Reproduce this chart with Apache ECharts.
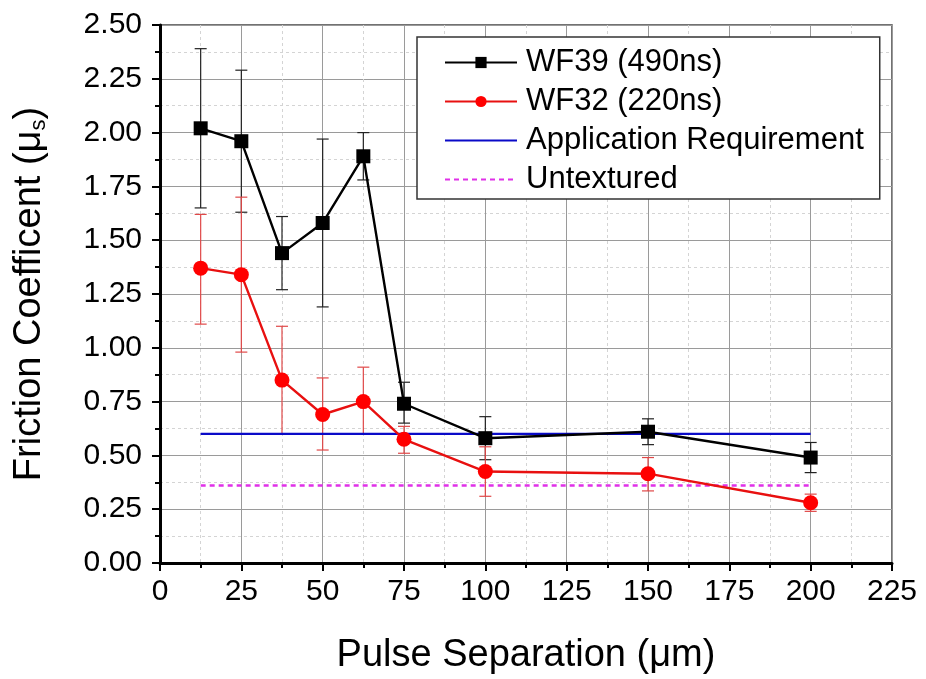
<!DOCTYPE html>
<html>
<head>
<meta charset="utf-8">
<script src="https://cdn.jsdelivr.net/npm/echarts@6/dist/echarts.min.js"></script>
<style>
  html, body { margin: 0; padding: 0; background: #fff; }
  #chart { width: 926px; height: 679px; }
</style>
</head>
<body>
<div id="chart"></div>
<script>
// Pulse separation (µm) for each textured sample
const pulseSeparation = [12.5, 25, 37.5, 50, 62.5, 75, 100, 150, 200];

// WF39 (490 ns) mean friction coefficient and error range
const wf39Mean = [2.02, 1.96, 1.44, 1.58, 1.89, 0.74, 0.58, 0.61, 0.49];
const wf39High = [2.39, 2.29, 1.61, 1.97, 2.00, 0.84, 0.68, 0.67, 0.56];
const wf39Low  = [1.65, 1.63, 1.27, 1.19, 1.78, 0.65, 0.48, 0.55, 0.42];

// WF32 (220 ns) mean friction coefficient and error range
const wf32Mean = [1.37, 1.34, 0.85, 0.69, 0.75, 0.575, 0.425, 0.415, 0.28];
const wf32High = [1.62, 1.70, 1.10, 0.86, 0.91, 0.635, 0.54, 0.49, 0.32];
const wf32Low  = [1.11, 0.98, 0.60, 0.525, 0.60, 0.51, 0.31, 0.335, 0.24];

// Reference levels, drawn across the measured range
const referenceRange = [12.5, 200];
const applicationRequirement = 0.6;
const untextured = 0.36;

const seriesNames = ['WF39 (490ns)', 'WF32 (220ns)', 'Application Requirement', 'Untextured'];

const FONT = '"Liberation Sans", Arial, sans-serif';

const pairs = (xs, ys) => xs.map((x, i) => [x, ys[i]]);
const errRows = (xs, lo, hi) => xs.map((x, i) => [x, lo[i], hi[i]]);

// Vertical error bar with short caps
function errorBar(color) {
  return function (params, api) {
    const x = api.value(0);
    const lo = api.coord([x, api.value(1)]);
    const hi = api.coord([x, api.value(2)]);
    const cap = 6;
    const style = { stroke: color, lineWidth: 1.2, fill: null };
    return {
      type: 'group',
      children: [
        { type: 'line', shape: { x1: lo[0], y1: lo[1], x2: hi[0], y2: hi[1] }, style },
        { type: 'line', shape: { x1: hi[0] - cap, y1: hi[1], x2: hi[0] + cap, y2: hi[1] }, style },
        { type: 'line', shape: { x1: lo[0] - cap, y1: lo[1], x2: lo[0] + cap, y2: lo[1] }, style }
      ]
    };
  };
}

const chart = echarts.init(document.getElementById('chart'), null, { renderer: 'canvas' });

const axisCommon = {
  axisLine: { show: true, onZero: false, lineStyle: { color: '#000', width: 3 } },
  axisTick: { show: true, inside: false, length: 8, lineStyle: { color: '#000', width: 2 } },
  minorTick: { show: true, splitNumber: 2, length: 5, lineStyle: { color: '#000', width: 2 } },
  splitLine: { show: true, lineStyle: { color: '#9a9a9a', width: 1 } },
  minorSplitLine: { show: true, lineStyle: { color: '#d4d4d4', width: 1, type: [3, 3] } },
  axisLabel: { color: '#000', fontFamily: FONT, fontSize: 30 },
  nameTextStyle: { color: '#000', fontFamily: FONT, fontSize: 38 }
};

// Plain-line legend entries carry no marker
const lineOnly = { color: 'rgba(0,0,0,0)', borderWidth: 0 };

chart.setOption({
  animation: false,
  backgroundColor: '#fff',
  grid: {
    left: 160, right: 34, top: 25, bottom: 116,
    outerBoundsMode: 'none',
    show: true, borderColor: '#444', borderWidth: 1.5, backgroundColor: 'transparent'
  },
  legend: {
    data: [
      { name: seriesNames[0] },
      { name: seriesNames[1] },
      { name: seriesNames[2], itemStyle: lineOnly },
      { name: seriesNames[3], itemStyle: lineOnly }
    ],
    orient: 'vertical',
    left: 417, top: 37,
    padding: [10, 16, 4, 27],
    itemWidth: 72, itemHeight: 14, itemGap: 8,
    backgroundColor: '#fff',
    borderColor: '#333', borderWidth: 1.5, borderRadius: 0,
    textStyle: { color: '#000', fontFamily: FONT, fontSize: 31, lineHeight: 30, padding: [0, 0, 0, 4] }
  },
  xAxis: Object.assign({}, axisCommon, {
    type: 'value', min: 0, max: 225, interval: 25,
    name: 'Pulse Separation (μm)', nameLocation: 'middle', nameGap: 74,
    axisLabel: Object.assign({}, axisCommon.axisLabel, { margin: 14 })
  }),
  yAxis: Object.assign({}, axisCommon, {
    type: 'value', min: 0, max: 2.5, interval: 0.25,
    name: '{t|Friction Coefficent (μ}{s|s}{t|)}', nameLocation: 'middle', nameGap: 110, nameRotate: 90,
    nameTextStyle: Object.assign({}, axisCommon.nameTextStyle, {
      rich: {
        t: { fontFamily: FONT, fontSize: 38, color: '#000' },
        s: { fontFamily: FONT, fontSize: 22, color: '#000', padding: [18, 0, 0, 0] }
      }
    }),
    axisLabel: Object.assign({}, axisCommon.axisLabel, { margin: 18, formatter: v => v.toFixed(2) })
  }),
  series: [
    {
      name: seriesNames[0], type: 'line', z: 4,
      data: pairs(pulseSeparation, wf39Mean),
      symbol: 'rect', symbolSize: 14,
      lineStyle: { color: '#000', width: 2.4 },
      itemStyle: { color: '#000' }
    },
    {
      name: seriesNames[1], type: 'line', z: 4,
      data: pairs(pulseSeparation, wf32Mean),
      symbol: 'circle', symbolSize: 15,
      lineStyle: { color: '#e81010', width: 2.4 },
      itemStyle: { color: '#ff0000' }
    },
    {
      name: seriesNames[2], type: 'line', z: 3,
      data: referenceRange.map(x => [x, applicationRequirement]),
      symbol: 'none', showSymbol: false,
      lineStyle: { color: '#0a0ac8', width: 2.4 },
      itemStyle: { color: '#0a0ac8' }
    },
    {
      name: seriesNames[3], type: 'line', z: 3,
      data: referenceRange.map(x => [x, untextured]),
      symbol: 'none', showSymbol: false,
      lineStyle: { color: '#e030e8', width: 2.4, type: [5, 4] },
      itemStyle: { color: '#e030e8' }
    },
    {
      name: 'wf39-error', type: 'custom', z: 2,
      data: errRows(pulseSeparation, wf39Low, wf39High),
      encode: { x: 0, y: [1, 2] },
      renderItem: errorBar('#222')
    },
    {
      name: 'wf32-error', type: 'custom', z: 2,
      data: errRows(pulseSeparation, wf32Low, wf32High),
      encode: { x: 0, y: [1, 2] },
      renderItem: errorBar('#e04848')
    }
  ]
});
</script>
</body>
</html>
